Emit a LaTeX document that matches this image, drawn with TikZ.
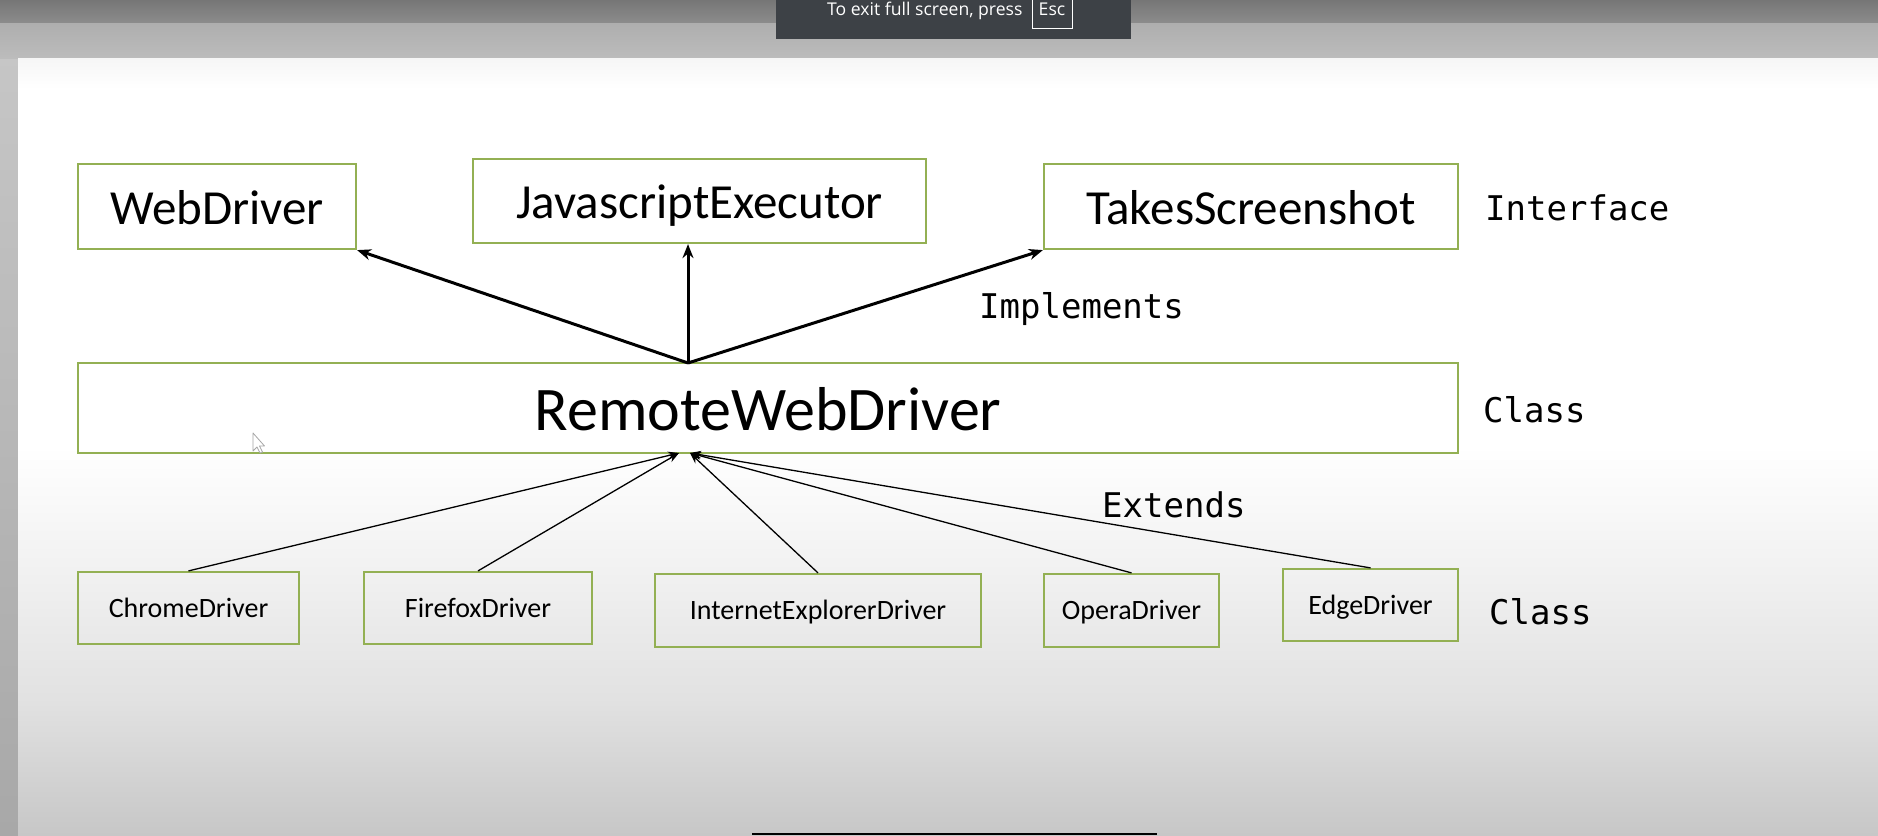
\documentclass[tikz,border=0pt]{standalone}
\usepackage{fontspec}
\setmainfont{Carlito}
\newfontfamily\monofnt{DejaVu Sans Mono}
\newfontfamily\uifnt{Open Sans}
\usetikzlibrary{arrows.meta}
\definecolor{boxgreen}{RGB}{147,176,83}
\definecolor{ovlgray}{RGB}{61,65,70}
\pgfdeclareverticalshading{slidebg}{100bp}{rgb(0bp)=(0.78,0.78,0.78); rgb(25bp)=(0.78,0.78,0.78); rgb(33.7bp)=(0.885,0.885,0.885); rgb(42bp)=(0.945,0.945,0.945); rgb(50bp)=(1,1,1); rgb(73bp)=(1,1,1); rgb(75bp)=(0.965,0.965,0.965); rgb(100bp)=(0.965,0.965,0.965)}
\tikzset{
  box/.style={draw=boxgreen, line width=2.2pt, inner sep=0pt},
  bigtxt/.style={font=\fontsize{49}{59}\selectfont, text height=35pt, text depth=0pt},
  hugetxt/.style={font=\fontsize{62}{74}\selectfont, text height=45pt, text depth=0pt},
  smalltxt/.style={font=\fontsize{28}{34}\selectfont, text height=18pt, text depth=0pt},
  lbl/.style={font=\monofnt\fontsize{34}{40}\selectfont, inner sep=0pt, anchor=base west},
  thickarr/.style={line width=3pt, -{Stealth[length=14pt,width=11pt]}},
  thinarr/.style={line width=1.3pt, -{Stealth[length=11pt,width=8pt]}}
}
\begin{document}
\begin{tikzpicture}[x=1pt,y=-1pt]
\useasboundingbox (0,0) rectangle (1878,835);
% screen background
\shade[top color={rgb,255:red,200;green,200;blue,200}, bottom color={rgb,255:red,168;green,168;blue,168}] (0,0) rectangle (1878,835);
\shade[top color={rgb,255:red,118;green,118;blue,118}, bottom color={rgb,255:red,140;green,140;blue,140}] (0,0) rectangle (1878,23);
\shade[top color={rgb,255:red,174;green,174;blue,174}, bottom color={rgb,255:red,188;green,188;blue,188}] (0,23) rectangle (1878,58);
\shade[shading=slidebg] (18,58) rectangle (1878,835);
% full-screen overlay
\fill[ovlgray] (776,0) rectangle (1131,39);
\node[font=\uifnt\fontsize{17.6}{21}\selectfont, text=white, anchor=base west, inner sep=0pt] (exitmsg) at (827,15) {To exit full screen, press};
\node[draw=white, line width=1pt, inner sep=0pt, minimum width=40pt, minimum height=33pt, anchor=south west] (esckey) at (1032,29) {};
\node[font=\uifnt\fontsize{17.6}{21}\selectfont, text=white, anchor=base, inner sep=0pt] (esctxt) at (1052,15) {Esc};
\fill[black] (752,833) rectangle (1157,835);

% interfaces
\node[box, bigtxt, minimum width=278pt, minimum height=85pt] (wd) at (217,206.5) {WebDriver};
\node[box, bigtxt, minimum width=453pt, minimum height=84pt] (js) at (699.5,201) {JavascriptExecutor};
\node[box, bigtxt, minimum width=414pt, minimum height=85pt] (ts) at (1251,206.5) {TakesScreenshot};
% class
\node[box, hugetxt, minimum width=1380pt, minimum height=90pt] (rwd) at (768,408) {RemoteWebDriver};
% drivers
\node[box, smalltxt, minimum width=221pt, minimum height=72pt] (cd) at (188.5,608) {ChromeDriver};
\node[box, smalltxt, minimum width=228pt, minimum height=72pt] (fd) at (478,608) {FirefoxDriver};
\node[box, smalltxt, minimum width=326pt, minimum height=73pt] (ie) at (818,610.5) {InternetExplorerDriver};
\node[box, smalltxt, minimum width=175pt, minimum height=73pt] (od) at (1131.5,610.5) {OperaDriver};
\node[box, smalltxt, minimum width=175pt, minimum height=72pt] (ed) at (1370.5,605) {EdgeDriver};

% labels
\node[lbl] (linterface) at (1485,220) {Interface};
\node[lbl] (limpl) at (979,318) {Implements};
\node[lbl] (lclass1) at (1483,422) {Class};
\node[lbl] (lext) at (1102,517) {Extends};
\node[lbl] (lclass2) at (1489,624) {Class};

% connectors
\coordinate (rtop) at (688,363);
\coordinate (rbotA) at (679,453);
\coordinate (rbotB) at (690,453);
\draw[thickarr] (rtop) -- (wd.south east);
\draw[thickarr] (rtop) -- (rtop |- js.south);
\draw[thickarr] (rtop) -- (ts.south west);
\draw[thinarr] (cd.north) -- (rbotA);
\draw[thinarr] (fd.north) -- (rbotA);
\draw[thinarr] (ie.north) -- (rbotB);
\draw[thinarr] (od.north) -- (rbotB);
\draw[thinarr] (ed.north) -- (rbotB);

% mouse pointer
\filldraw[fill=white, draw=gray!70, line width=0.8pt, line join=round] (253,433) -- (253,451) -- (257,447) -- (260,453) -- (262.5,452) -- (259.5,446) -- (264.5,446) -- cycle;
\end{tikzpicture}
\end{document}
